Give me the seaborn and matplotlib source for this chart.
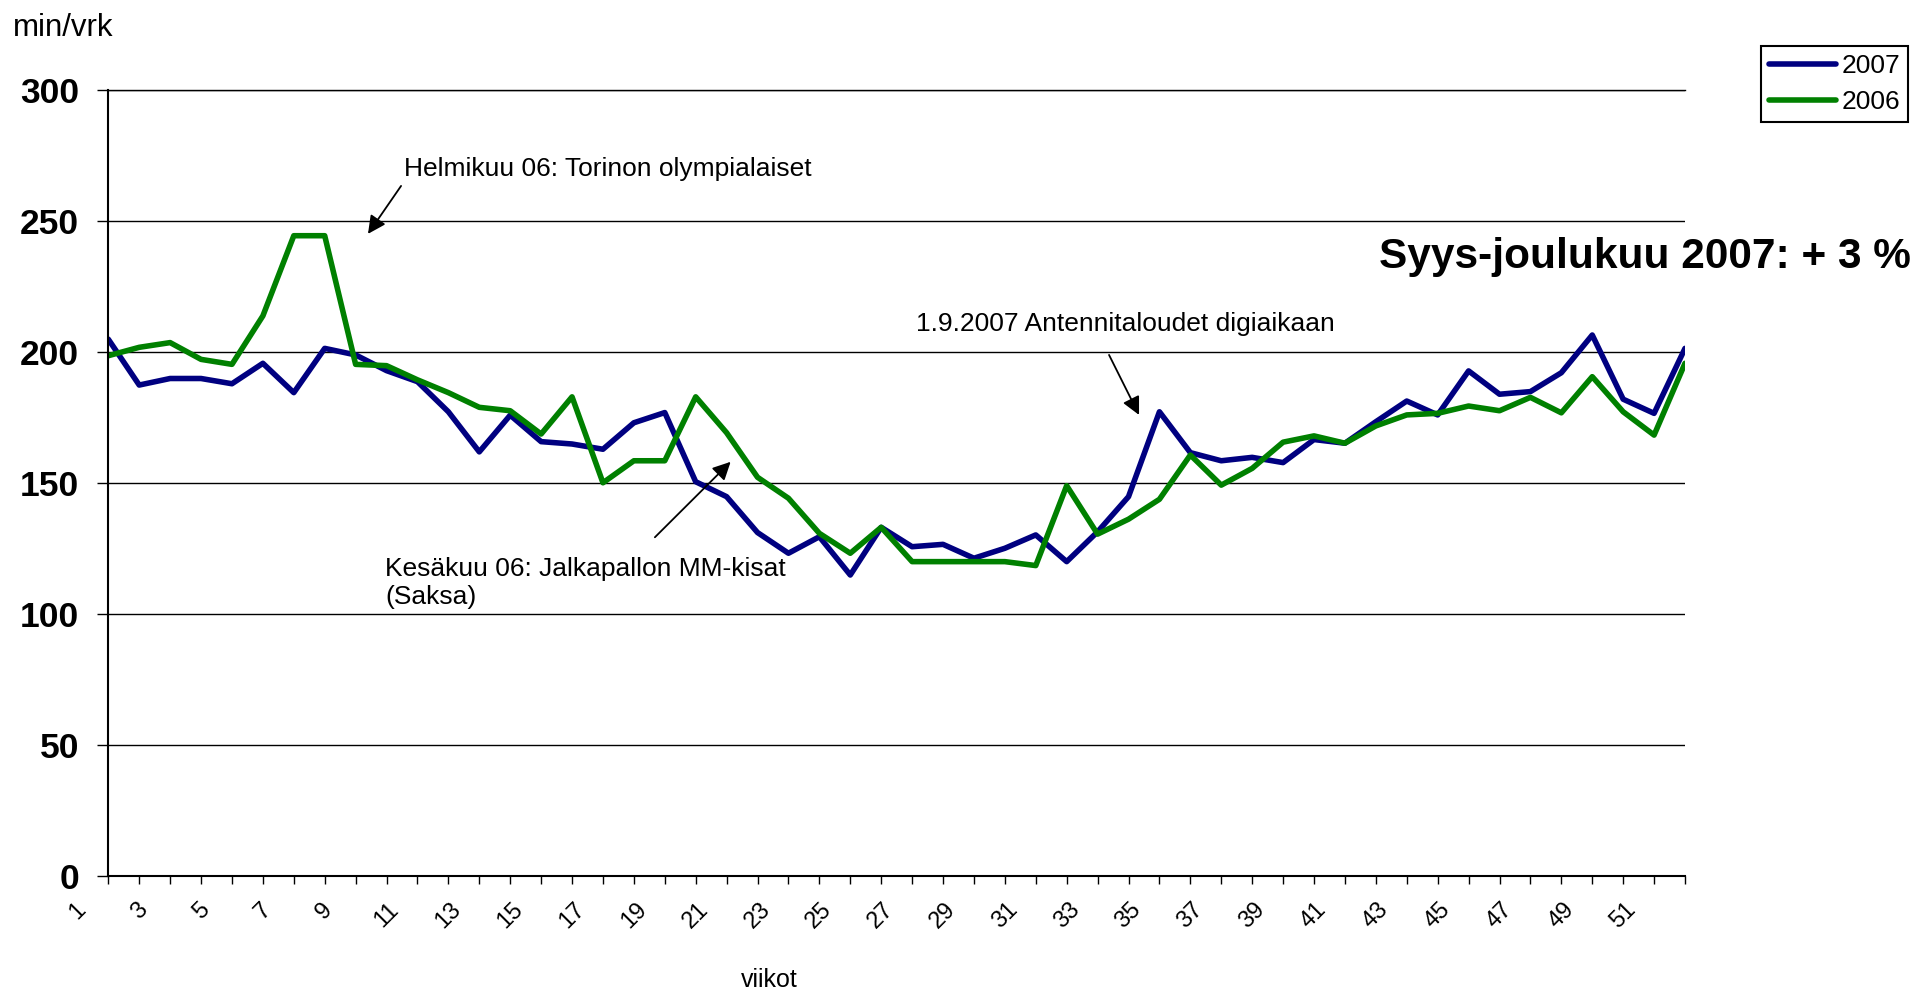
import matplotlib
matplotlib.use("Agg")
import matplotlib.pyplot as plt
import pandas as pd
import seaborn as sns

# ---------------- data ----------------
weeks = list(range(2, 54))
tv_2007 = [205, 187.5, 190, 190, 188, 195.8, 184.6, 201.5, 199, 193,
           188.8, 177.3, 162, 176, 165.9, 165, 163, 173.1, 177, 150.6,
           144.9, 131.2, 123.3, 129.6, 115, 133.2, 125.8, 126.7, 121.4, 125.2,
           130.3, 120.1, 131.5, 144.9, 177.3, 161.7, 158.6, 159.9, 157.9, 166.7,
           165.3, 173.5, 181.4, 176.1, 192.9, 184, 185, 192.2, 206.6, 182.1,
           176.7, 201.5]
tv_2006 = [198.7, 201.9, 203.7, 197.3, 195.4, 213.9, 244.5, 244.5, 195.4, 194.9,
           189.5, 184.6, 179, 177.7, 168.8, 183, 150.2, 158.6, 158.6, 183,
           169.3, 152.3, 144.3, 130.9, 123.3, 133.2, 120.1, 120.1, 120.1, 120.1,
           118.6, 149.1, 130.6, 136.3, 143.9, 160.8, 149.3, 155.7, 165.7, 168.1,
           165.3, 171.9, 176.1, 176.7, 179.5, 177.7, 182.8, 176.9, 190.7, 177.3,
           168.4, 195.8]
series_names = ["2007", "2006"]
series_colors = ["#000080", "#008000"]
week_label_values = list(range(1, 52, 2))
y_ticks = [0, 50, 100, 150, 200, 250, 300]

df = pd.DataFrame({
    "viikko": weeks * 2,
    "min": tv_2007 + tv_2006,
    "vuosi": [series_names[0]] * len(weeks) + [series_names[1]] * len(weeks),
})

# ---------------- style ----------------
sns.set_style("white")
plt.rcParams["font.family"] = ["Liberation Sans", "DejaVu Sans"]
plt.rcParams["text.color"] = "black"
plt.rcParams["axes.labelcolor"] = "black"
plt.rcParams["xtick.color"] = "black"
plt.rcParams["ytick.color"] = "black"

W, H = 1919, 994
fig = plt.figure(figsize=(W / 100, H / 100), dpi=100)
ax_left, ax_right, ax_top, ax_bottom = 108.3, 1685.0, 90.3, 876.3
ax = fig.add_axes([ax_left / W, (H - ax_bottom) / H,
                   (ax_right - ax_left) / W, (ax_bottom - ax_top) / H])

sns.lineplot(data=df, x="viikko", y="min", hue="vuosi", hue_order=series_names,
             palette=series_colors, linewidth=4.0, sort=False, errorbar=None,
             legend=False, ax=ax)

ax.set_xlim(2, 53)
ax.set_ylim(0, 300)
ax.set_axisbelow(True)

# y axis
ax.set_yticks(y_ticks)
ax.set_yticklabels([str(v) for v in y_ticks], fontsize=25.5, fontweight="bold",
                   color="black")
ax.yaxis.grid(True, color="black", linewidth=1.0)
ax.xaxis.grid(False)
ax.tick_params(axis="y", direction="out", length=8, width=1.0, color="black",
               pad=13, left=True)

# x axis
major = [w for w in week_label_values if w >= 2]
ax.set_xticks(major)
ax.set_xticklabels([str(w) for w in major], rotation=45, fontsize=17,
                   color="black")
ax.set_xticks([w for w in weeks if w not in major], minor=True)
ax.tick_params(axis="x", which="both", direction="out", length=6, width=1.0,
               color="black", bottom=True, pad=10)
# first label (week 1) lies just left of the value axis
for w in week_label_values:
    if w < 2:
        ax.annotate(str(w), xy=(w, 0), xycoords=("data", "axes fraction"),
                    xytext=(0, -16), textcoords="offset points", rotation=45,
                    ha="center", va="top", fontsize=17, color="black",
                    annotation_clip=False)

for side in ["left", "bottom"]:
    ax.spines[side].set_color("black")
    ax.spines[side].set_linewidth(1.5)
ax.spines["top"].set_color("black")
ax.spines["top"].set_linewidth(1.0)
ax.spines["right"].set_visible(False)

ax.set_xlabel("viikot", fontsize=18, color="black")
ax.xaxis.set_label_coords((769 - ax_left) / (ax_right - ax_left),
                          (ax_bottom - 968) / (ax_bottom - ax_top))
ax.set_ylabel("min/vrk", fontsize=22.5, rotation=0, ha="left", va="baseline",
              color="black")
ax.yaxis.set_label_coords((13 - ax_left) / (ax_right - ax_left),
                          (ax_bottom - 36) / (ax_bottom - ax_top))

# annotations
arrow = dict(arrowstyle="-|>", color="black", lw=1.3, mutation_scale=27,
             shrinkA=0, shrinkB=0)
ax.text(11.56, 270.0, "Helmikuu 06: Torinon olympialaiset", fontsize=19,
        ha="left", va="center", color="black")
ax.annotate("", xy=(10.40, 245.2), xytext=(11.47, 263.5), arrowprops=arrow)

ax.text(10.96, 112.0, "Kesäkuu 06: Jalkapallon MM-kisat\n(Saksa)", fontsize=19,
        ha="left", va="center", linespacing=1.2, color="black")
ax.annotate("", xy=(22.13, 158.2), xytext=(19.68, 129.4), arrowprops=arrow)

ax.text(28.11, 210.8, "1.9.2007 Antennitaloudet digiaikaan", fontsize=19,
        ha="left", va="center", color="black")
ax.annotate("", xy=(35.34, 176.1), xytext=(34.37, 199.0), arrowprops=arrow)

ax.text(43.1, 236.5, "Syys-joulukuu 2007: + 3 %", fontsize=30.5,
        fontweight="bold", ha="left", va="center", clip_on=False,
        color="black")

# legend
leg = fig.legend(handles=ax.lines[:2], labels=series_names, loc="upper left",
                 bbox_to_anchor=(1760.7 / W, 1 - 46 / H), frameon=True,
                 fancybox=False, edgecolor="black", fontsize=19,
                 handlelength=2.54, handletextpad=0.23, borderpad=0.3,
                 labelspacing=0.45, borderaxespad=0)
leg.get_frame().set_linewidth(1.5)
leg.get_frame().set_alpha(1)
for t in leg.get_texts():
    t.set_color("black")

fig.savefig("out.png", dpi=100)
